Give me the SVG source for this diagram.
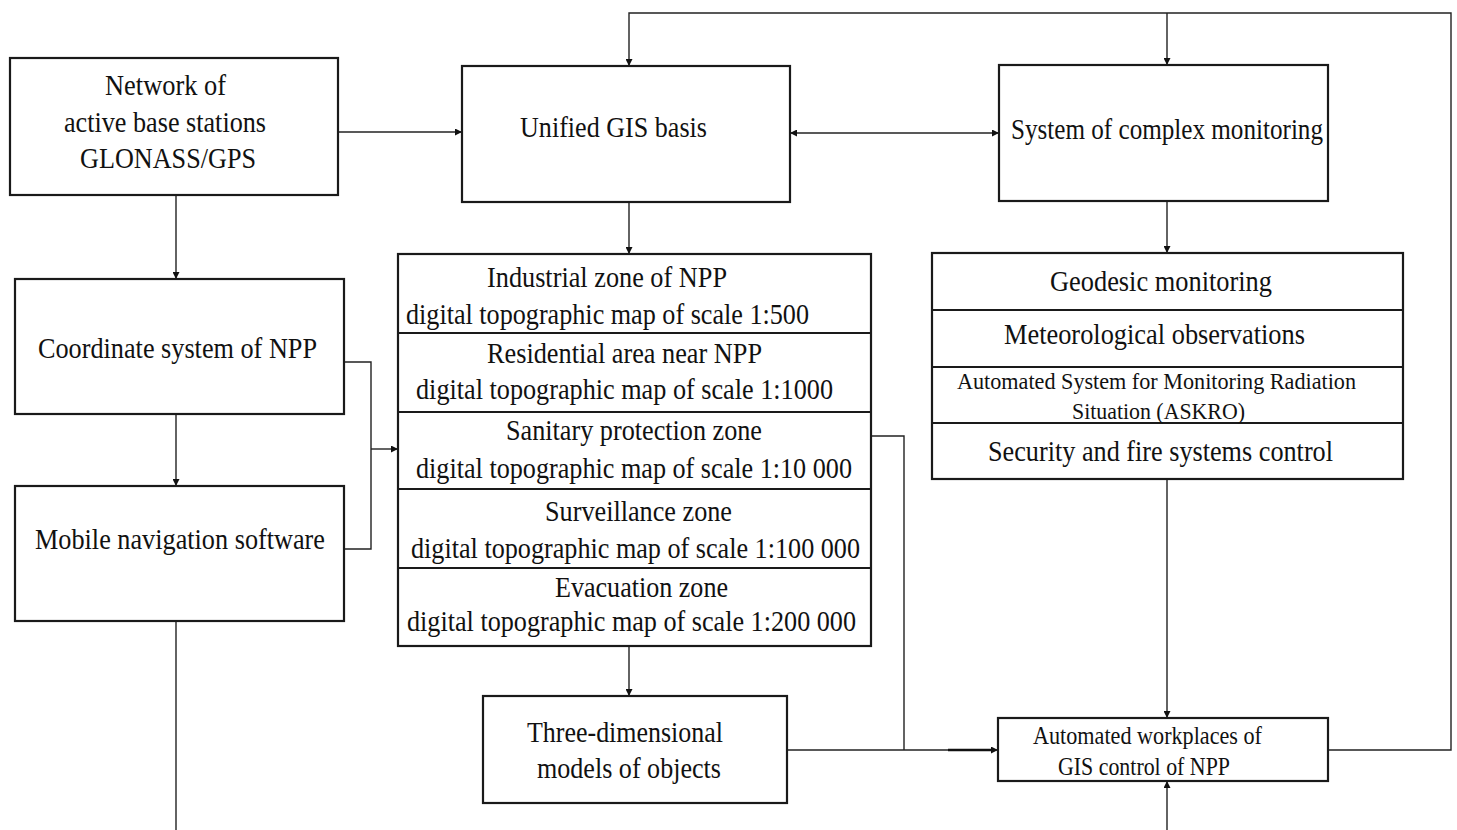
<svg xmlns="http://www.w3.org/2000/svg" width="1457" height="830" viewBox="0 0 1457 830">
<style>
.box{fill:#fff;stroke:#1a1a1a;stroke-width:2.2}
.div{stroke:#1a1a1a;stroke-width:2}
.con{fill:none;stroke:#222;stroke-width:1.4}
.t{font-family:'Liberation Serif','Times New Roman',Times,serif;fill:#111;font-size:29px}
.s24{font-size:24px}
.s26{font-size:26px}
</style>
<defs>
<marker id="ah" viewBox="0 0 10 10" refX="10" refY="5" markerWidth="9" markerHeight="7" orient="auto-start-reverse" markerUnits="userSpaceOnUse">
<path d="M0,0 L10,5 L0,10 z" fill="#111"/>
</marker>
</defs>
<rect width="1457" height="830" fill="#fff"/>

<g id="connectors">
<line class="con" x1="338" y1="132" x2="462" y2="132" marker-end="url(#ah)"/>
<line class="con" x1="790" y1="133" x2="999" y2="133" marker-start="url(#ah)" marker-end="url(#ah)"/>
<path class="con" d="M1328,750 H1451 V13 H629 V66" marker-end="url(#ah)"/>
<line class="con" x1="1167" y1="13" x2="1167" y2="65" marker-end="url(#ah)"/>
<line class="con" x1="629" y1="202" x2="629" y2="254" marker-end="url(#ah)"/>
<line class="con" x1="1167" y1="201" x2="1167" y2="253" marker-end="url(#ah)"/>
<line class="con" x1="176" y1="195" x2="176" y2="279" marker-end="url(#ah)"/>
<line class="con" x1="176" y1="414" x2="176" y2="486" marker-end="url(#ah)"/>
<line class="con" x1="176" y1="621" x2="176" y2="830"/>
<path class="con" d="M344,362 H371 V549 H344"/>
<line class="con" x1="371" y1="449" x2="398" y2="449" marker-end="url(#ah)"/>
<line class="con" x1="629" y1="646" x2="629" y2="696" marker-end="url(#ah)"/>
<path class="con" d="M871,436 H904 V750"/>
<line class="con" x1="787" y1="750" x2="998" y2="750" marker-end="url(#ah)"/>
<line x1="948" y1="750" x2="992" y2="750" stroke="#111" stroke-width="2.4"/>
<line class="con" x1="1167" y1="479" x2="1167" y2="718" marker-end="url(#ah)"/>
<line class="con" x1="1167" y1="830" x2="1167" y2="781" marker-end="url(#ah)"/>
</g>

<g id="node-network" class="t" font-family="Liberation Serif, serif">
<rect class="box" x="10" y="58" width="328" height="137"/>
<text x="105" y="95" textLength="121" lengthAdjust="spacingAndGlyphs">Network of</text>
<text x="64" y="132" textLength="202" lengthAdjust="spacingAndGlyphs">active base stations</text>
<text x="80" y="168" textLength="176" lengthAdjust="spacingAndGlyphs">GLONASS/GPS</text>
</g>

<g id="node-unified" class="t" font-family="Liberation Serif, serif">
<rect class="box" x="462" y="66" width="328" height="136"/>
<text x="520" y="137" textLength="187" lengthAdjust="spacingAndGlyphs">Unified GIS basis</text>
</g>

<g id="node-system" class="t" font-family="Liberation Serif, serif">
<rect class="box" x="999" y="65" width="329" height="136"/>
<text x="1011" y="139" textLength="312" lengthAdjust="spacingAndGlyphs">System of complex monitoring</text>
</g>

<g id="node-coordinate" class="t" font-family="Liberation Serif, serif">
<rect class="box" x="15" y="279" width="329" height="135"/>
<text x="38" y="358" textLength="279" lengthAdjust="spacingAndGlyphs">Coordinate system of NPP</text>
</g>

<g id="node-mobile" class="t" font-family="Liberation Serif, serif">
<rect class="box" x="15" y="486" width="329" height="135"/>
<text x="35" y="549" textLength="290" lengthAdjust="spacingAndGlyphs">Mobile navigation software</text>
</g>

<g id="node-zones" class="t" font-family="Liberation Serif, serif">
<rect class="box" x="398" y="254" width="473" height="392"/>
<line class="div" x1="398" y1="333" x2="871" y2="333"/>
<line class="div" x1="398" y1="412" x2="871" y2="412"/>
<line class="div" x1="398" y1="489" x2="871" y2="489"/>
<line class="div" x1="398" y1="568" x2="871" y2="568"/>
<text x="487" y="287" textLength="240" lengthAdjust="spacingAndGlyphs">Industrial zone of NPP</text>
<text x="406" y="324" textLength="403" lengthAdjust="spacingAndGlyphs">digital topographic map of scale 1:500</text>
<text x="487" y="363" textLength="275" lengthAdjust="spacingAndGlyphs">Residential area near NPP</text>
<text x="416" y="399" textLength="417" lengthAdjust="spacingAndGlyphs">digital topographic map of scale 1:1000</text>
<text x="506" y="440" textLength="256" lengthAdjust="spacingAndGlyphs">Sanitary protection zone</text>
<text x="416" y="478" textLength="436" lengthAdjust="spacingAndGlyphs">digital topographic map of scale 1:10 000</text>
<text x="545" y="521" textLength="187" lengthAdjust="spacingAndGlyphs">Surveillance zone</text>
<text x="411" y="558" textLength="449" lengthAdjust="spacingAndGlyphs">digital topographic map of scale 1:100 000</text>
<text x="555" y="597" textLength="173" lengthAdjust="spacingAndGlyphs">Evacuation zone</text>
<text x="407" y="631" textLength="449" lengthAdjust="spacingAndGlyphs">digital topographic map of scale 1:200 000</text>
</g>

<g id="node-monitoring" class="t" font-family="Liberation Serif, serif">
<rect class="box" x="932" y="253" width="471" height="226"/>
<line class="div" x1="932" y1="310" x2="1403" y2="310"/>
<line class="div" x1="932" y1="367" x2="1403" y2="367"/>
<line class="div" x1="932" y1="423" x2="1403" y2="423"/>
<text x="1050" y="291" textLength="222" lengthAdjust="spacingAndGlyphs">Geodesic monitoring</text>
<text x="1004" y="344" textLength="301" lengthAdjust="spacingAndGlyphs">Meteorological observations</text>
<text class="s24" x="957" y="389" textLength="399" lengthAdjust="spacingAndGlyphs">Automated System for Monitoring Radiation</text>
<text class="s24" x="1072" y="419" textLength="173" lengthAdjust="spacingAndGlyphs">Situation (ASKRO)</text>
<text x="988" y="461" textLength="345" lengthAdjust="spacingAndGlyphs">Security and fire systems control</text>
</g>

<g id="node-3d" class="t" font-family="Liberation Serif, serif">
<rect class="box" x="483" y="696" width="304" height="107"/>
<text x="527" y="742" textLength="196" lengthAdjust="spacingAndGlyphs">Three-dimensional</text>
<text x="537" y="778" textLength="184" lengthAdjust="spacingAndGlyphs">models of objects</text>
</g>

<g id="node-workplaces" class="t" font-family="Liberation Serif, serif">
<rect class="box" x="998" y="718" width="330" height="63"/>
<text class="s26" x="1033" y="744" textLength="229" lengthAdjust="spacingAndGlyphs">Automated workplaces of</text>
<text class="s26" x="1058" y="775" textLength="172" lengthAdjust="spacingAndGlyphs">GIS control of NPP</text>
</g>
</svg>
